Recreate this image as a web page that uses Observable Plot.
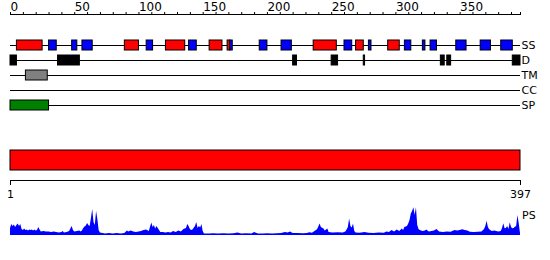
<!DOCTYPE html>
<html><head><meta charset="utf-8">
<script src="https://cdn.jsdelivr.net/npm/d3@7"></script>
<script src="https://cdn.jsdelivr.net/npm/@observablehq/plot@0.6"></script>
<style>
body{margin:0;background:#fff;}
#chart{width:550px;height:260px;}
#chart svg{display:block;}
</style></head><body><div id="chart"></div>
<script>
const proteinLength = 397;
const tracks = ["SS", "D", "TM", "CC", "SP"];
const topTicks = [0,10,20,30,40,50,60,70,80,90,100,110,120,130,140,150,160,170,180,190,200,210,220,230,240,250,260,270,280,290,300,310,320,330,340,350,360,370,380,390,397];
const topLabels = [0, 50, 100, 150, 200, 250, 300, 350];
const bottomTicks = [1, 397];

const helixStart = [5, 89, 121, 155, 169, 236, 269, 294];
const helixEnd   = [25, 100, 136, 165, 171, 254, 275, 303];
const strandStart = [30, 48, 56, 106, 139, 171, 194, 211, 260, 279, 307, 321, 327, 347, 366, 382];
const strandEnd   = [36, 52, 64, 111, 145, 173, 200, 219, 266, 281, 312, 323, 332, 355, 374, 391];
const disorderStart = [0, 37, 220, 250, 275, 335, 340, 391];
const disorderEnd   = [5, 54, 223, 255, 276, 338, 343, 397];
const tmStart = [12];
const tmEnd = [29];
const spStart = [0];
const spEnd = [30];

const psPos = [0,1,2,3,4,5,6,7,8,9,10,11,12,13,14,15,16,17,18,19,20,21,22,23,24,26,28,30,32,34,36,38,40,41,42,44,46,47,48,49,50,52,54,55,56,57,58,59,60,61,62,63,64,65,66,67,68,69,70,72,74,77,80,83,86,89,91,92,94,96,98,100,102,104,106,108,110,111,112,113,114,115,116,117,119,121,123,125,127,129,131,133,135,137,138,139,140,141,142,144,145,146,147,148,149,150,151,155,158,162,166,170,174,177,180,184,188,190,191,193,197,200,204,208,211,214,216,218,220,224,228,231,233,235,237,239,241,242,244,245,247,248,251,255,259,261,262,263,264,265,266,267,268,269,272,276,279,283,287,291,293,295,297,299,301,303,305,306,307,309,310,311,312,313,314,315,316,317,318,319,321,323,324,326,328,330,332,334,337,340,343,346,348,350,352,354,356,358,361,364,367,369,370,371,372,373,375,377,380,382,383,384,385,386,387,388,389,390,391,392,393,394,395,396,397];
const psVal = [7,11,9,10.5,8,10,11.5,9,11,6,5,6.5,5,5.5,4.5,5.5,5,5.5,4.5,5.5,4.5,5,8,5.5,3.5,4,3.5,3.5,3,3.5,3,2.5,3,4,2.5,3,4,6.5,9,5,3.5,4,4.5,3.5,4.5,7,8.5,9.5,12,10,9,17,26,13,10,24,16,5,2.5,2,1.5,2,1.5,2,1.5,2,4.5,3.5,4.5,3.5,3,3.5,4,5,5.5,4,12.5,8,10,6.5,9,7,5,3,3,2.5,3,2.5,4,3,4.5,3.5,6,7,11,9,6,5,5.5,9,13,7,9,7.5,11,4,1.5,1.5,1.8,1.5,1.8,1.5,1.8,2.5,1.5,1.8,1.5,3,2.5,1.5,1.5,1.8,1.5,1.7,2,3,2.5,3.5,2,2,1.8,2,2.7,2.2,4,5.7,11.5,8,6.5,4.5,6.5,3,2.5,2.8,2.5,3.5,5.5,8,16.5,9,7.5,11.5,4,2.5,2.3,3,2.3,2,2.5,2.3,3.5,3,5,3.5,5.5,4,6.5,5,8,9,11.5,15,21.5,24,27.7,20,27.7,10,6,5,4,4.5,5.5,3.5,4,4.5,6,3.5,3,3.5,3.3,5,4.5,5,5.7,5,4.5,3.3,3,3.3,3.5,6,9,14.3,8,5.7,4,4.5,3.5,4,7,11.7,6.7,7,9,6,12.7,8,6.7,7,8.3,9,20,11.7,2];

const seg = (track, s, e) => s.map((d, i) => ({track, start: d, end: e[i]}));
const font = {fontFamily: "DejaVu Sans", color: "black", background: "white"};
const chart = document.getElementById("chart");

// tracks + top ruler
chart.appendChild(Plot.plot({
  width: 550, height: 115, marginLeft: 10, marginRight: 30, marginTop: 14, marginBottom: 0,
  style: font,
  x: {domain: [0, proteinLength]},
  y: {type: "band", domain: tracks, range: [37.5, 112.5], paddingInner: 1/3, paddingOuter: 1/6},
  marks: [
    Plot.frame({anchor: "top", stroke: "black"}),
    Plot.axisX({anchor: "top", ticks: topTicks, tickSize: 3, tickPadding: 1, label: null,
      tickFormat: d => topLabels.includes(d) ? String(d) : "", textAnchor: "start", fontSize: 12}),
    Plot.ruleY(tracks, {stroke: "black"}),
    Plot.barX(seg("SS", helixStart, helixEnd), {x1: "start", x2: "end", y: "track", fill: "#ff0000", stroke: "black"}),
    Plot.barX(seg("SS", strandStart, strandEnd), {x1: "start", x2: "end", y: "track", fill: "#0000ff", stroke: "black"}),
    Plot.barX(seg("D", disorderStart, disorderEnd), {x1: "start", x2: "end", y: "track", fill: "black", stroke: "black"}),
    Plot.barX(seg("TM", tmStart, tmEnd), {x1: "start", x2: "end", y: "track", fill: "#808080", stroke: "black"}),
    Plot.barX(seg("SP", spStart, spEnd), {x1: "start", x2: "end", y: "track", fill: "#008000", stroke: "black"}),
    Plot.axisY({anchor: "right", tickSize: 0, tickPadding: 1, fontSize: 11, label: null})
  ]
}));

// full-length bar
chart.appendChild(Plot.plot({
  width: 550, height: 60, marginLeft: 10, marginRight: 30, marginTop: 35, marginBottom: 5,
  style: font,
  x: {domain: [0, proteinLength], axis: null},
  marks: [
    Plot.barX([{start: 0, end: proteinLength}], {x1: "start", x2: "end", fill: "#ff0000", stroke: "black"})
  ]
}));

// bottom ruler
chart.appendChild(Plot.plot({
  width: 550, height: 28, marginLeft: 10, marginRight: 30, marginTop: 0, marginBottom: 23,
  style: font,
  x: {domain: [1, proteinLength]},
  y: {domain: [0, 1], axis: null},
  marks: [
    Plot.ruleY([0], {stroke: "black"}),
    Plot.axisX({anchor: "bottom", ticks: bottomTicks, tickSize: 5, tickPadding: 5, fontSize: 11, label: null})
  ]
}));

// PS profile
chart.appendChild(Plot.plot({
  width: 550, height: 57, marginLeft: 10, marginRight: 30, marginTop: 4, marginBottom: 25,
  style: font,
  x: {domain: [0, proteinLength], axis: null},
  y: {domain: [0, 28], axis: null},
  marks: [
    Plot.areaY(psPos.map((p, i) => ({p, v: psVal[i]})), {x: "p", y: "v", fill: "#0000ff"}),
    Plot.text(["PS"], {frameAnchor: "top-right", textAnchor: "start", dx: 1.5, dy: 4, fontSize: 11, fill: "black"})
  ]
}));
</script></body></html>
